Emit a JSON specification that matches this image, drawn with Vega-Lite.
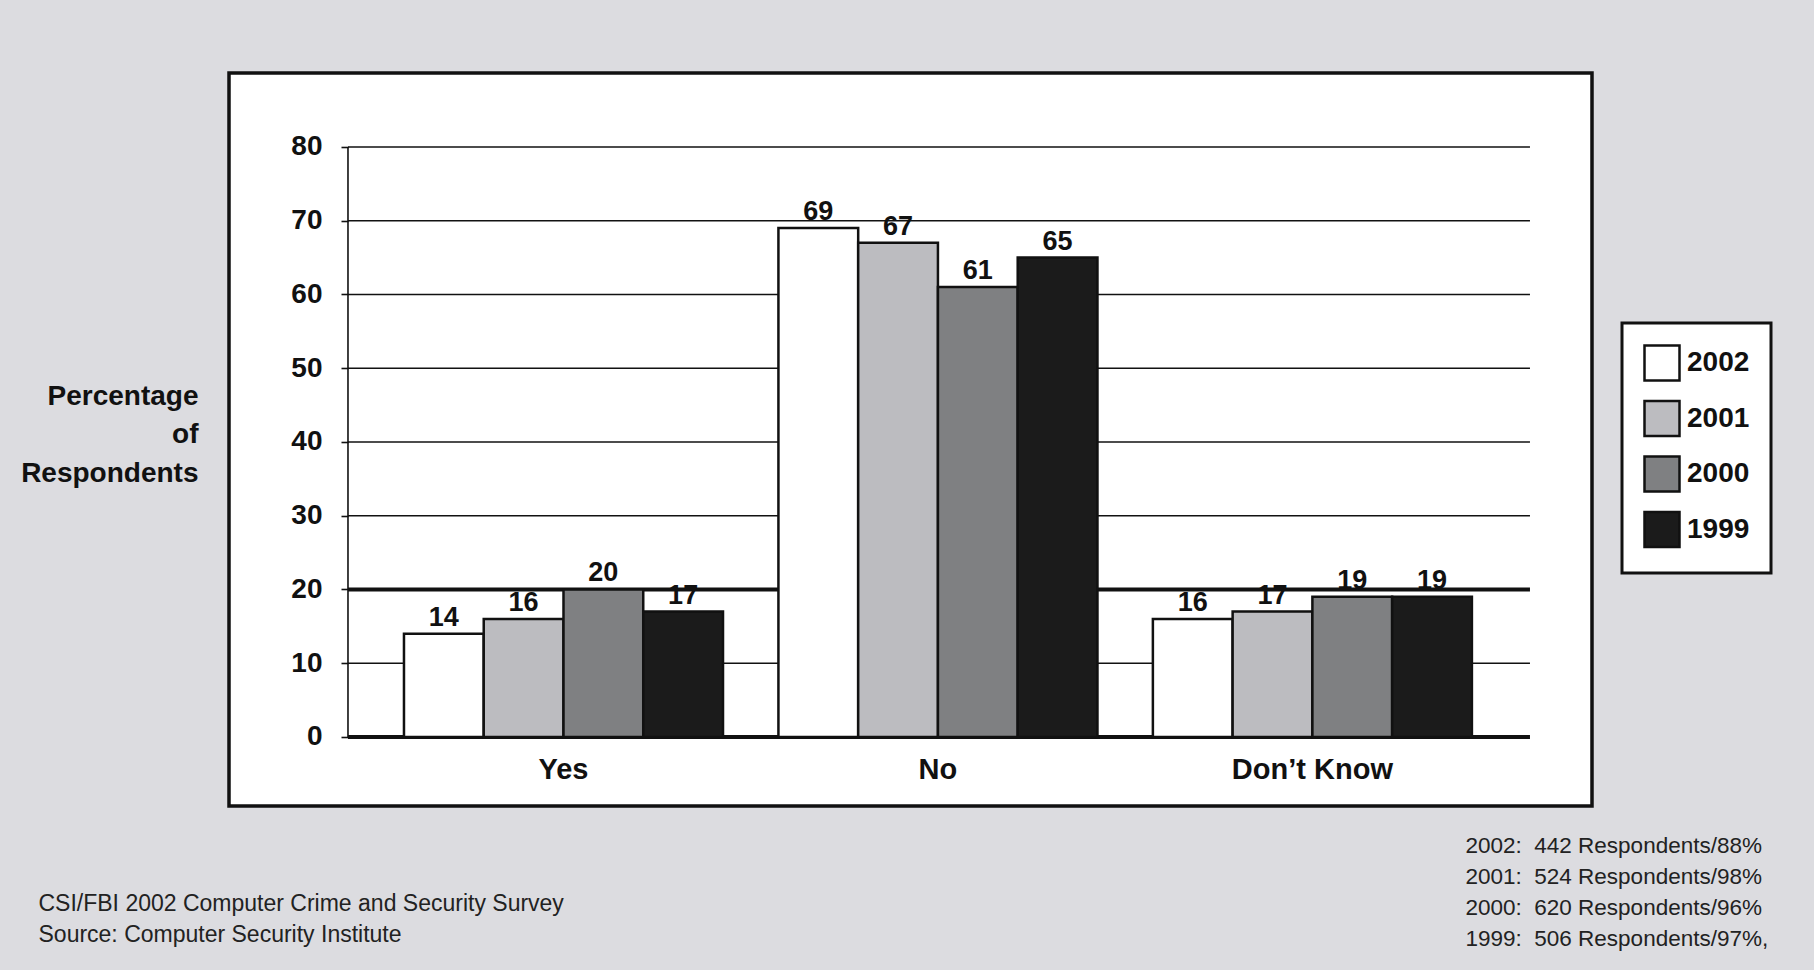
{
  "$schema": "https://vega.github.io/schema/vega-lite/v6.json",
  "width": 1363,
  "height": 733,
  "autosize": {"type": "none"},
  "padding": {"left": 229, "top": 73, "right": 222, "bottom": 164},
  "background": "#dcdce0",
  "config": {
    "view": {"fill": "white", "stroke": "#111111", "strokeWidth": 3.5},
    "font": "Liberation Sans",
    "legend": {"strokeWidth": 3}
  },
  "data": {
    "values": [
      {"category": "Yes", "year": "2002", "value": 14},
      {"category": "Yes", "year": "2001", "value": 16},
      {"category": "Yes", "year": "2000", "value": 20},
      {"category": "Yes", "year": "1999", "value": 17},
      {"category": "No", "year": "2002", "value": 69},
      {"category": "No", "year": "2001", "value": 67},
      {"category": "No", "year": "2000", "value": 61},
      {"category": "No", "year": "1999", "value": 65},
      {"category": "Don’t Know", "year": "2002", "value": 16},
      {"category": "Don’t Know", "year": "2001", "value": 17},
      {"category": "Don’t Know", "year": "2000", "value": 19},
      {"category": "Don’t Know", "year": "1999", "value": 19}
    ]
  },
  "resolve": {"axis": {"x": "independent"}},
  "layer": [
    {
      "data": {"values": [{"value": 0}, {"value": 10}, {"value": 20}, {"value": 30}, {"value": 40}, {"value": 50}, {"value": 60}, {"value": 70}, {"value": 80}]},
      "mark": {"type": "rule", "color": "#111111"},
      "encoding": {
        "x": {
          "datum": "Yes", "type": "nominal", "bandPosition": -0.1755,
          "scale": {"domain": ["Yes", "No", "Don’t Know"], "paddingInner": 0.148, "paddingOuter": 0.394, "align": 0.593},
          "axis": {
            "orient": "bottom", "offset": -69, "labels": false, "ticks": false, "domain": false, "grid": false,
            "title": ["2002:\u00a0 442 Respondents/88%", "2001:\u00a0 524 Respondents/98%", "2000:\u00a0 620 Respondents/96%", "1999:\u00a0 506 Respondents/97%,"],
            "titleX": 1236, "titleY": 97, "titleAlign": "left", "titleBaseline": "top", "titleAngle": 0,
            "titleFont": "Liberation Sans", "titleFontSize": 22.5, "titleFontWeight": "normal",
            "titleColor": "#222222", "titleLineHeight": 31
          }
        },
        "x2": {"datum": "Don’t Know", "bandPosition": 1.182},
        "y": {"field": "value", "type": "quantitative"},
        "strokeWidth": {"condition": {"test": "datum.value == 20 || datum.value == 0", "value": 4}, "value": 1.6}
      }
    },
    {
      "data": {"values": [{}]},
      "mark": {"type": "rule", "color": "#111111", "strokeWidth": 1.6},
      "encoding": {
        "x": {"datum": "Yes", "type": "nominal", "bandPosition": -0.1755, "axis": null},
        "y": {"datum": 0, "type": "quantitative"},
        "y2": {"datum": 80}
      }
    },
    {
      "mark": {"type": "bar", "stroke": "#111111", "strokeWidth": 2.5},
      "encoding": {
        "x": {
          "field": "category", "type": "nominal", "sort": ["Yes", "No", "Don’t Know"],
          "axis": {
            "orient": "bottom", "offset": -69, "domain": false, "ticks": false, "grid": false,
            "labelAngle": 0, "labelPadding": 18, "labelFontSize": 29, "labelFontWeight": "bold", "labelColor": "#111111",
            "title": ["CSI/FBI 2002 Computer Crime and Security Survey", "Source: Computer Security Institute"],
            "titleX": -191, "titleY": 155, "titleAlign": "left", "titleBaseline": "top", "titleAngle": 0,
            "titleFont": "Liberation Sans", "titleFontSize": 23, "titleFontWeight": "normal",
            "titleColor": "#222222", "titleLineHeight": 31
          }
        },
        "xOffset": {"field": "year", "type": "nominal", "scale": {"domain": ["2002", "2001", "2000", "1999"], "paddingInner": 0, "paddingOuter": 0}},
        "y": {
          "field": "value", "type": "quantitative",
          "scale": {"domain": [-9.36, 90.03], "nice": false, "zero": false},
          "axis": {
            "values": [0, 10, 20, 30, 40, 50, 60, 70, 80],
            "offset": -119, "domain": false, "grid": false,
            "tickSize": 7, "tickWidth": 1.6, "tickColor": "#111111",
            "labelPadding": 19, "labelFontSize": 28, "labelFontWeight": "bold", "labelColor": "#111111",
            "title": ["Percentage", "of", "Respondents"],
            "titleAngle": 0, "titleAlign": "right", "titleBaseline": "top",
            "titleX": -150, "titleY": 309, "titleFontSize": 28, "titleFontWeight": "bold", "titleColor": "#111111",
            "titleLineHeight": 38.5
          }
        },
        "y2": {"datum": 0},
        "color": {
          "field": "year", "type": "nominal",
          "scale": {"domain": ["2002", "2001", "2000", "1999"], "range": ["#ffffff", "#bcbcc0", "#7f8082", "#1b1b1b"]},
          "legend": {
            "orient": "none", "legendX": 1393, "legendY": 250, "title": null,
            "symbolType": "square", "symbolSize": 1225, "symbolStrokeColor": "#111111", "symbolStrokeWidth": 2.5,
            "labelFontSize": 28, "labelFontWeight": "bold", "labelColor": "#111111", "labelOffset": 6,
            "rowPadding": 9.5, "padding": 21, "fillColor": "white", "strokeColor": "#111111"
          }
        }
      }
    },
    {
      "mark": {"type": "text", "baseline": "alphabetic", "dy": -8, "fontSize": 27, "fontWeight": "bold", "color": "#111111"},
      "encoding": {
        "x": {"field": "category", "type": "nominal", "sort": ["Yes", "No", "Don’t Know"], "axis": null},
        "xOffset": {"field": "year", "type": "nominal", "scale": {"domain": ["2002", "2001", "2000", "1999"]}},
        "y": {"field": "value", "type": "quantitative"},
        "text": {"field": "value", "type": "quantitative"}
      }
    }
  ]
}
